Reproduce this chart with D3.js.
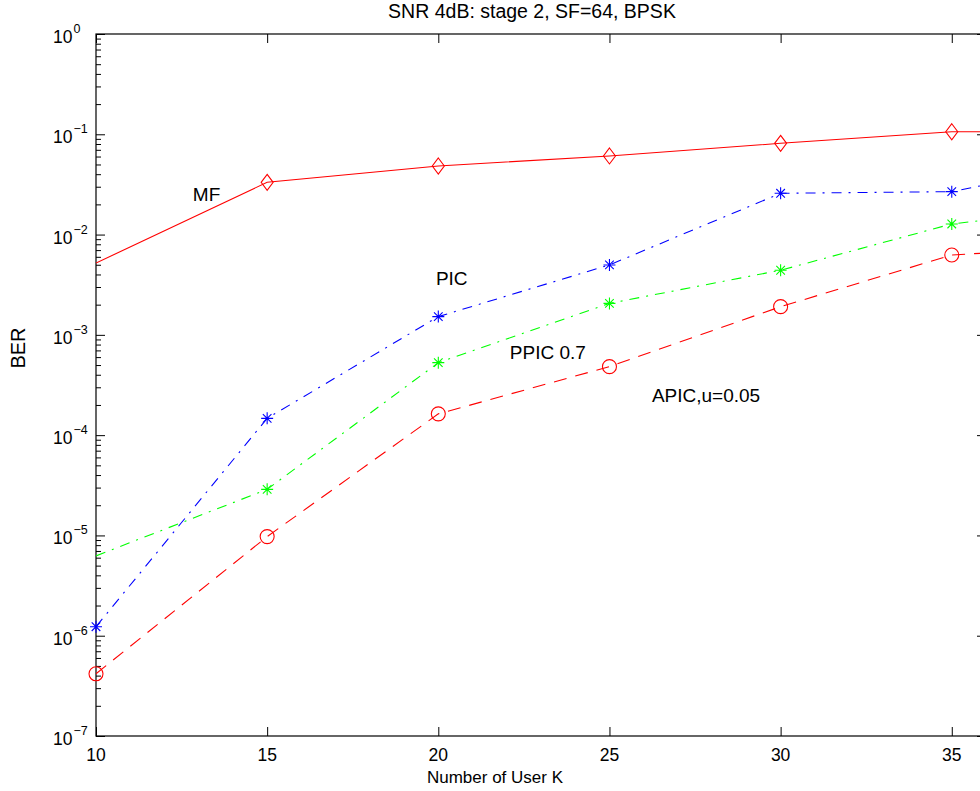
<!DOCTYPE html>
<html>
<head>
<meta charset="utf-8">
<script src="https://cdn.jsdelivr.net/npm/d3@7/dist/d3.min.js"></script>
<style>
  body { margin: 0; background: #fff; }
  text { font-family: "Liberation Sans", Arial, Helvetica, sans-serif; fill: #000; }
</style>
</head>
<body>
<div id="chart"></div>
<script>
// values (BER per number of users K)
const users = [10, 15, 20, 25, 30, 35, 40]
const berMF = [5.2e-3, 0.0332, 0.0483, 0.0608, 0.0813, 0.106, 0.105]
const berPIC = [1.23e-6, 1.47e-4, 1.52e-3, 4.98e-3, 0.0258, 0.0268, 0.0594]
const berPPIC = [6.25e-6, 2.88e-5, 5.28e-4, 2.06e-3, 4.41e-3, 0.01276, 0.0202]
const berAPIC = [4.17e-7, 9.73e-6, 1.63e-4, 4.82e-4, 1.91e-3, 6.26e-3, 7.87e-3]

const xTicks = [10, 15, 20, 25, 30, 35]
const yDecades = [0, -1, -2, -3, -4, -5, -6, -7]

const titleText = "SNR 4dB: stage 2, SF=64, BPSK"
const xLabel = "Number of User K"
const yLabel = "BER"

// series: name, values, colour, dash pattern, marker, draw marker at first point?
const series = [
  { name: "MF", values: berMF, color: "#ff0000", dash: null, marker: "diamond", firstMarker: false },
  { name: "PIC", values: berPIC, color: "#0000ff", dash: "10,7,2,7", marker: "star", firstMarker: true },
  { name: "PPIC 0.7", values: berPPIC, color: "#00ff00", dash: "10,7,2,7", marker: "star", firstMarker: false },
  { name: "APIC,u=0.05", values: berAPIC, color: "#ff0000", dash: "13,9", marker: "circle", firstMarker: true },
]

// text labels placed in data space
const labelNames = ["MF", "PIC", "PPIC 0.7", "APIC,u=0.05"]
const labelK = [12.83, 19.93, 22.09, 26.24]
const labelBer = [0.0216, 3.14e-3, 5.75e-4, 2.14e-4]

const width = 980
const height = 791
const plot = { left: 96, top: 34, right: 986, bottom: 736 }

const x = d3.scaleLinear().domain([10, 36]).range([plot.left, plot.right])
const y = d3.scaleLog().domain([1e-7, 1]).range([plot.bottom, plot.top])

const svg = d3.select("#chart").append("svg")
  .attr("width", width)
  .attr("height", height)

svg.append("defs").append("clipPath")
  .attr("id", "clip")
  .append("rect")
    .attr("x", plot.left)
    .attr("y", plot.top)
    .attr("width", plot.right - plot.left)
    .attr("height", plot.bottom - plot.top)

// minor ticks 2..9 of every decade
var minorTicks = []
for (var e = -7; e < 0; e++) {
  for (var m = 2; m <= 9; m++) minorTicks.push(m * Math.pow(10, e))
}
const majorTicks = yDecades.map(d => Math.pow(10, d))

function styleAxis(g) {
  g.select(".domain").remove()
  g.selectAll(".tick line").attr("stroke", "#000").attr("stroke-width", 1)
  g.selectAll(".tick text").remove()
}

svg.append("g")
  .attr("transform", `translate(0,${plot.bottom})`)
  .call(d3.axisBottom(x).tickValues(xTicks).tickSize(-9).tickSizeOuter(0))
  .call(styleAxis)
svg.append("g")
  .attr("transform", `translate(0,${plot.top})`)
  .call(d3.axisTop(x).tickValues(xTicks).tickSize(-9).tickSizeOuter(0))
  .call(styleAxis)

const sides = [
  { axis: d3.axisLeft, pos: plot.left },
  { axis: d3.axisRight, pos: plot.right },
]
sides.forEach(s => {
  svg.append("g")
    .attr("transform", `translate(${s.pos},0)`)
    .call(s.axis(y).tickValues(majorTicks).tickSize(-9).tickSizeOuter(0))
    .call(styleAxis)
  svg.append("g")
    .attr("transform", `translate(${s.pos},0)`)
    .call(s.axis(y).tickValues(minorTicks).tickSize(-5).tickSizeOuter(0))
    .call(styleAxis)
})

// box
svg.append("rect")
  .attr("x", plot.left)
  .attr("y", plot.top)
  .attr("width", plot.right - plot.left)
  .attr("height", plot.bottom - plot.top)
  .attr("fill", "none")
  .attr("stroke", "#000")
  .attr("stroke-width", 1.2)

// x tick labels
svg.append("g").selectAll("text")
  .data(xTicks)
  .enter().append("text")
    .attr("x", d => x(d))
    .attr("y", plot.bottom + 25)
    .attr("text-anchor", "middle")
    .attr("font-size", 17.5)
    .text(d => d)

// y tick labels, 10 with a superscript exponent
const yLab = svg.append("g").selectAll("text")
  .data(yDecades)
  .enter().append("text")
    .attr("x", 53)
    .attr("y", d => y(Math.pow(10, d)) + 9)
    .attr("font-size", 17.5)
yLab.append("tspan").text("10")
yLab.append("tspan")
  .attr("font-size", 12.5)
  .attr("dy", -10)
  .attr("dx", 1)
  .text(d => d < 0 ? "\u2212" + (-d) : d)

// lines
const line = d3.line()
  .x((d, i) => x(users[i]))
  .y(d => y(d))

const lines = svg.append("g").attr("clip-path", "url(#clip)")
series.forEach(s => {
  lines.append("path")
    .datum(s.values)
    .attr("fill", "none")
    .attr("stroke", s.color)
    .attr("stroke-width", 1.1)
    .attr("stroke-dasharray", s.dash)
    .attr("d", line)
})

// markers
const markerPath = {
  diamond: "M0,-8L6,0L0,8L-6,0Z",
  star: "M-6,0H6M0,-6V6M-4.3,-4.3L4.3,4.3M-4.3,4.3L4.3,-4.3",
}
series.forEach(s => {
  const pts = s.values
    .map((v, i) => ({ k: users[i], v: v, i: i }))
    .filter(p => (s.firstMarker || p.i > 0) && p.k <= 36)
  const g = svg.append("g")
  if (s.marker === "circle") {
    g.selectAll("circle").data(pts).enter().append("circle")
      .attr("cx", p => x(p.k))
      .attr("cy", p => y(p.v))
      .attr("r", 7)
      .attr("fill", "none")
      .attr("stroke", s.color)
      .attr("stroke-width", 1.1)
  } else {
    g.selectAll("path").data(pts).enter().append("path")
      .attr("transform", p => `translate(${x(p.k)},${y(p.v)})`)
      .attr("d", markerPath[s.marker])
      .attr("fill", "none")
      .attr("stroke", s.color)
      .attr("stroke-width", 1.1)
  }
})

// series labels
svg.append("g").selectAll("text")
  .data(labelNames)
  .enter().append("text")
    .attr("x", (d, i) => x(labelK[i]))
    .attr("y", (d, i) => y(labelBer[i]))
    .attr("font-size", 19)
    .text(d => d)

// title and axis labels
svg.append("text")
  .attr("x", 532)
  .attr("y", 18)
  .attr("text-anchor", "middle")
  .attr("font-size", 19.5)
  .text(titleText)

svg.append("text")
  .attr("x", 495)
  .attr("y", 783)
  .attr("text-anchor", "middle")
  .attr("font-size", 17)
  .text(xLabel)

svg.append("text")
  .attr("transform", "translate(25,348) rotate(-90)")
  .attr("text-anchor", "middle")
  .attr("font-size", 20)
  .text(yLabel)
</script>
</body>
</html>
